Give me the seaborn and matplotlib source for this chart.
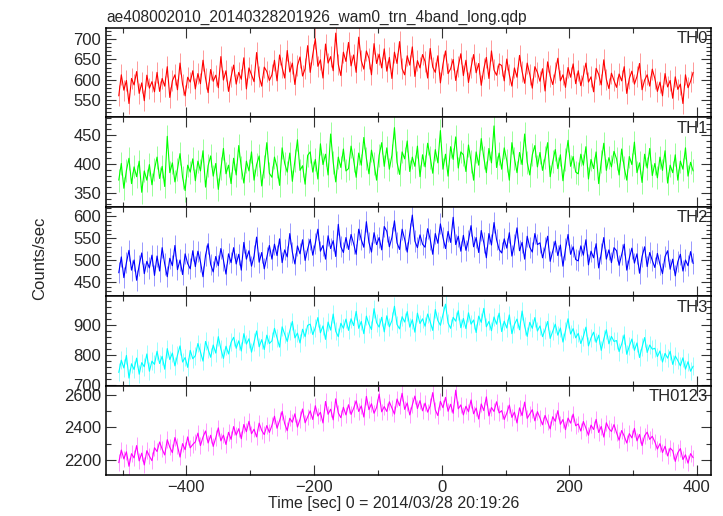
"""WAM light curves of the four energy bands plus their sum, stacked panels"""

import numpy as np
import matplotlib
matplotlib.use("Agg")
import matplotlib.pyplot as plt
import seaborn as sns
from matplotlib.ticker import MultipleLocator

# time axis: bin start and bin width in seconds
T_START = -506
BIN_SEC = 4

TH0 = [
    560, 612, 574, 598, 541, 603, 587, 620, 566, 592, 548, 611, 579, 595, 570,
    618, 571, 603, 584, 632, 556, 597, 612, 575, 641, 588, 560, 606, 594, 622,
    577, 615, 590, 648, 603, 568, 625, 596, 611, 580, 657, 599, 622, 571, 607,
    636, 589, 618, 601, 654, 577, 629, 612, 595, 667, 608, 584, 631, 620, 598,
    612, 648, 597, 661, 630, 604, 672, 619, 641, 588, 635, 656, 609, 627, 684,
    618, 662, 701, 633, 649, 604, 688, 641, 657, 622, 715, 638, 610, 668, 645,
    692, 634, 661, 618, 705, 647, 626, 671, 653, 612, 689, 640, 663, 629, 676,
    621, 655, 603, 668, 640, 694, 627, 612, 659, 636, 681, 608, 647, 629, 662,
    645, 604, 677, 631, 618, 659, 592, 638, 671, 615, 627, 650, 598, 633, 664,
    610, 648, 593, 630, 662, 617, 640, 586, 627, 655, 603, 671, 624, 611, 639,
    635, 597, 651, 612, 584, 629, 606, 660, 620, 591, 641, 613, 579, 632, 618,
    596, 627, 572, 644, 609, 588, 618, 653, 597, 612, 581, 630, 606, 639, 590,
    622, 585, 610, 641, 594, 607, 570, 628, 613, 587, 649, 601, 578, 616, 598,
    581, 614, 597, 632, 566, 603, 621, 589, 608, 640, 575, 599, 612, 584, 626,
    603, 571, 594, 560, 615, 582, 598, 554, 607, 576, 589, 541, 612, 580, 596,
    618,
]

TH1 = [
    372, 401, 358, 389, 410, 366, 395, 378, 405, 351, 388, 372, 399, 364, 391,
    412, 375, 396, 361, 448, 385, 402, 369, 391, 418, 377, 354, 398, 386, 409,
    371, 405, 388, 423, 360, 397, 414, 379, 401, 356, 392, 427, 383, 398, 366,
    410, 381, 432, 394, 367, 405, 388, 421, 372, 399, 414, 362, 396, 437, 384,
    377, 412, 395, 363, 428, 401, 386, 419, 370, 406, 442, 389, 397, 365, 415,
    421, 386, 408, 374, 435, 399, 417, 381, 452, 403, 369, 412, 394, 426, 388,
    392, 431, 407, 377, 419, 398, 446, 410, 383, 424, 401, 372, 415, 437, 396,
    428, 391, 415, 463, 403, 382, 421, 409, 440, 387, 412, 396, 431, 378, 416,
    395, 436, 412, 384, 425, 402, 458, 391, 417, 379, 430, 408, 447, 393, 421,
    416, 387, 433, 405, 372, 421, 398, 444, 411, 385, 427, 402, 466, 394, 419,
    391, 428, 406, 372, 437, 410, 385, 420, 399, 452, 403, 381, 416, 432, 395,
    420, 389, 411, 437, 378, 404, 425, 392, 416, 371, 408, 441, 396, 413, 386,
    383, 417, 398, 430, 374, 408, 392, 421, 366, 404, 436, 389, 411, 395, 422,
    409, 381, 426, 394, 372, 413, 399, 438, 385, 402, 368, 417, 393, 427, 380,
    401, 376, 412, 389, 423, 367, 398, 385, 416, 372, 405, 391, 428, 379, 403,
    388,
]

TH2 = [
    472, 508, 461, 495, 523, 478, 501, 455, 489, 517, 470, 498, 483, 512, 466,
    510, 476, 529, 492, 463, 505, 488, 534, 479, 501, 468, 515, 493, 481, 522,
    486, 521, 497, 463, 512, 538, 491, 474, 509, 488, 527, 501, 469, 515, 495,
    529, 492, 514, 478, 541, 503, 522, 487, 510, 553, 496, 518, 481, 507, 534,
    503, 537, 511, 549, 495, 524, 508, 561, 519, 492, 533, 515, 547, 500, 526,
    548, 512, 539, 571, 521, 534, 503, 556, 527, 545, 509, 582, 531, 518, 552,
    525, 559, 538, 514, 571, 547, 530, 588, 541, 519, 563, 536, 552, 524, 577,
    566, 531, 552, 590, 540, 525, 571, 548, 519, 562, 603, 544, 529, 558, 537,
    530, 572, 548, 514, 561, 539, 583, 552, 527, 566, 541, 598, 536, 555, 521,
    557, 523, 546, 579, 531, 552, 518, 568, 540, 506, 561, 535, 586, 547, 525,
    517, 549, 528, 563, 510, 536, 574, 522, 541, 503, 555, 530, 519, 561, 536,
    540, 506, 529, 555, 498, 521, 544, 511, 535, 487, 526, 559, 514, 531, 502,
    499, 533, 512, 547, 490, 521, 506, 538, 483, 516, 552, 503, 524, 495, 529,
    522, 489, 513, 537, 478, 505, 528, 494, 515, 471, 509, 531, 486, 518, 500,
    484, 516, 491, 470, 509, 522, 480, 503, 465, 497, 514, 476, 501, 488, 520,
    493,
]

TH3 = [
    741, 782, 756, 798, 722, 770, 751, 789, 735, 774, 760, 803, 745, 779, 768,
    812, 771, 795, 752, 821, 784, 806, 763, 799, 830, 776, 791, 758, 815, 787,
    797, 838, 810, 779, 845, 818, 792, 833, 806, 861, 820, 788, 829, 803, 842,
    859, 822, 847, 813, 871, 836, 854, 809, 843, 880, 827, 851, 818, 866, 838,
    847, 889, 858, 826, 894, 869, 845, 881, 912, 857, 873, 840, 886, 861, 899,
    903, 868, 891, 925, 874, 897, 852, 910, 883, 937, 879, 861, 906, 889, 920,
    882, 921, 898, 946, 889, 912, 871, 930, 903, 885, 955, 908, 893, 926, 877,
    931, 894, 915, 963, 902, 887, 928, 910, 945, 893, 918, 876, 940, 905, 921,
    896, 937, 911, 882, 952, 915, 899, 934, 970, 907, 889, 926, 913, 948, 891,
    922, 888, 941, 903, 917, 875, 930, 909, 956, 894, 912, 881, 927, 903, 940,
    878, 913, 890, 934, 871, 902, 920, 884, 947, 896, 862, 909, 889, 925, 880,
    897, 861, 884, 912, 855, 879, 903, 866, 890, 843, 881, 921, 870, 888, 857,
    872, 838, 861, 893, 830, 857, 876, 842, 866, 815, 853, 884, 837, 862, 845,
    848, 811, 836, 867, 802, 829, 853, 815, 840, 791, 826, 858, 808, 833, 819,
    822, 794, 813, 776, 805, 789, 812, 768, 796, 781, 763, 790, 752, 777, 745,
    762,
]

TH0123 = [
    2185, 2262, 2208, 2251, 2163, 2240, 2214, 2289, 2196, 2243, 2171, 2258, 2225, 2197, 2276,
    2253, 2311, 2268, 2232, 2325, 2279, 2246, 2338, 2287, 2219, 2301, 2264, 2342, 2275, 2296,
    2312, 2365, 2289, 2341, 2378, 2305, 2352, 2284, 2336, 2397, 2318, 2353, 2296, 2370, 2327,
    2405, 2353, 2392, 2331, 2418, 2374, 2437, 2361, 2389, 2342, 2426, 2381, 2356, 2411, 2369,
    2412, 2468, 2395, 2441, 2497, 2423, 2380, 2456, 2431, 2483, 2402, 2449, 2512, 2428, 2465,
    2501, 2448, 2532, 2469, 2492, 2427, 2558, 2480, 2511, 2446, 2574, 2488, 2459, 2523, 2476,
    2538, 2479, 2516, 2562, 2497, 2531, 2463, 2589, 2508, 2544, 2486, 2521, 2603, 2495, 2527,
    2497, 2556, 2519, 2481, 2573, 2532, 2608, 2510, 2549, 2476, 2537, 2591, 2515, 2563, 2501,
    2548, 2493, 2531, 2612, 2507, 2472, 2559, 2520, 2583, 2498, 2541, 2486, 2627, 2513, 2537,
    2476, 2529, 2495, 2567, 2483, 2518, 2451, 2543, 2502, 2586, 2470, 2521, 2497, 2556, 2488,
    2502, 2448, 2487, 2536, 2461, 2493, 2427, 2519, 2472, 2554, 2455, 2481, 2508, 2440, 2496,
    2458, 2416, 2473, 2432, 2391, 2465, 2437, 2502, 2419, 2448, 2386, 2457, 2426, 2481, 2410,
    2421, 2378, 2436, 2395, 2352, 2414, 2387, 2449, 2369, 2406, 2341, 2428, 2393, 2375, 2417,
    2368, 2322, 2381, 2347, 2305, 2362, 2336, 2394, 2318, 2357, 2289, 2349, 2371, 2327, 2346,
    2312, 2268, 2301, 2247, 2285, 2226, 2274, 2258, 2193, 2246, 2271, 2204, 2233, 2182, 2240,
    2215,
]

BANDS = ["TH0", "TH1", "TH2", "TH3", "TH0123"]
SERIES = [TH0, TH1, TH2, TH3, TH0123]
ERRORS = [26, 20, 24, 30, 50]
COLORS = ["#ff0000", "#00ff00", "#0000ff", "#00ffff", "#ff00ff"]
YLIMS = [(507, 728), (326, 481), (419, 622), (697, 997), (2110, 2655)]
Y_MAJOR = [50, 50, 50, 100, 200]
Y_MINOR = [10, 10, 10, 20, 100]

TITLE = "ae408002010_20140328201926_wam0_trn_4band_long.qdp"
XLABEL = "Time [sec] 0 = 2014/03/28 20:19:26"
YLABEL = "Counts/sec"

sns.set_style("ticks")
plt.rcParams["font.family"] = ["Liberation Sans", "DejaVu Sans"]

fig, axes = plt.subplots(5, 1, figsize=(7.23, 5.16), dpi=100, sharex=True)
fig.subplots_adjust(left=0.1466, right=0.9834, top=0.946, bottom=0.0795, hspace=0)

for ax, band, values, err, color, ylim, ymaj, ymin in zip(
        axes, BANDS, SERIES, ERRORS, COLORS, YLIMS, Y_MAJOR, Y_MINOR):
    times = T_START + BIN_SEC * np.arange(len(values))
    ax.errorbar(times, values, yerr=err, fmt="none", ecolor=color,
                elinewidth=0.7, alpha=0.4)
    sns.lineplot(x=times, y=values, ax=ax, color=color, linewidth=0.8)
    ax.set_ylim(*ylim)
    ax.set_xlim(-526, 422)
    ax.yaxis.set_major_locator(MultipleLocator(ymaj))
    ax.yaxis.set_minor_locator(MultipleLocator(ymin))
    ax.xaxis.set_major_locator(MultipleLocator(200))
    ax.xaxis.set_minor_locator(MultipleLocator(100))
    ax.tick_params(which="both", direction="in", top=True, right=True,
                   labelsize=12, width=0.8, color="#333333")
    ax.tick_params(which="major", length=7)
    ax.tick_params(which="minor", length=3.5)
    for spine in ax.spines.values():
        spine.set_linewidth(1.1)
        spine.set_color("black")
    ax.text(0.995, 0.96, band, transform=ax.transAxes, ha="right", va="top",
            fontsize=12)

axes[-1].set_xlabel(XLABEL, fontsize=11.5, labelpad=1)
axes[-1].xaxis.label.set_x(0.476)
axes[0].set_title(TITLE, loc="left", fontsize=11.2, pad=4)
fig.text(0.055, 0.5, YLABEL, rotation=90, ha="center", va="center", fontsize=12)

fig.savefig("out.png", dpi=100)
